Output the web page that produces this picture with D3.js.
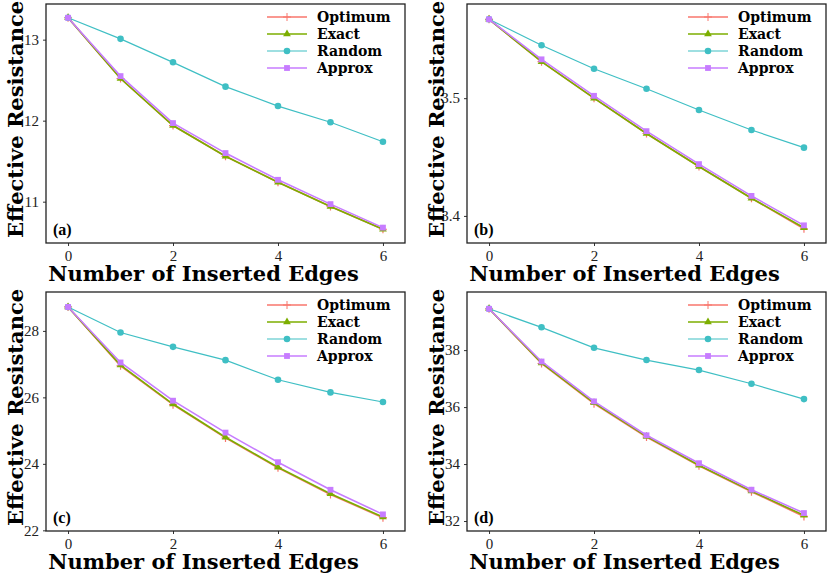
<!DOCTYPE html>
<html>
<head>
<style>body{margin:0;background:#fff}</style>
</head>
<body>
<svg width="830" height="578"></svg>
<script src="https://d3js.org/d3.v7.min.js"></script>
<script>

var steps = [0, 1, 2, 3, 4, 5, 6];
var seriesNames = ["Optimum", "Exact", "Random", "Approx"];
var colors = ["#f8766d", "#7cae00", "#3fbfc4", "#c77cff"];

// panel (a)
var aOptimum = [13.27, 12.52, 11.94, 11.56, 11.24, 10.94, 10.66];
var aExact   = [13.27, 12.52, 11.94, 11.56, 11.24, 10.94, 10.66];
var aRandom  = [13.27, 13.01, 12.72, 12.42, 12.18, 11.98, 11.74];
var aApprox  = [13.27, 12.55, 11.97, 11.60, 11.27, 10.97, 10.68];
// panel (b)
var bOptimum = [3.567, 3.531, 3.500, 3.470, 3.442, 3.415, 3.389];
var bExact   = [3.567, 3.531, 3.500, 3.470, 3.442, 3.415, 3.390];
var bRandom  = [3.567, 3.545, 3.525, 3.508, 3.490, 3.473, 3.458];
var bApprox  = [3.567, 3.533, 3.502, 3.472, 3.444, 3.417, 3.392];
// panel (c)
var cOptimum = [28.72, 26.95, 25.78, 24.78, 23.88, 23.08, 22.38];
var cExact   = [28.72, 26.97, 25.80, 24.80, 23.90, 23.10, 22.40];
var cRandom  = [28.72, 27.95, 27.52, 27.12, 26.53, 26.15, 25.86];
var cApprox  = [28.72, 27.05, 25.90, 24.94, 24.05, 23.22, 22.48];
// panel (d)
var dOptimum = [39.45, 37.53, 36.12, 34.95, 33.94, 33.03, 32.16];
var dExact   = [39.45, 37.55, 36.15, 34.97, 33.96, 33.05, 32.20];
var dRandom  = [39.45, 38.80, 38.08, 37.65, 37.30, 36.82, 36.28];
var dApprox  = [39.45, 37.60, 36.20, 35.01, 34.03, 33.10, 32.28];

var yTicksA = [11, 12, 13], yTicksB = [3.4, 3.5], yTicksC = [22, 24, 26, 28], yTicksD = [32, 34, 36, 38];
var xTicks = [0, 2, 4, 6];

var panels = [
  {label: "(a)", left: 46, top: 4, series: [aOptimum, aExact, aRandom, aApprox], ydom: [10.49, 13.44], yticks: yTicksA, fmt: d3.format("d")},
  {label: "(b)", left: 467, top: 4, series: [bOptimum, bExact, bRandom, bApprox], ydom: [3.377, 3.580], yticks: yTicksB, fmt: d3.format(".1f")},
  {label: "(c)", left: 46, top: 292, series: [cOptimum, cExact, cRandom, cApprox], ydom: [21.98, 29.17], yticks: yTicksC, fmt: d3.format("d")},
  {label: "(d)", left: 467, top: 292, series: [dOptimum, dExact, dRandom, dApprox], ydom: [31.65, 40.04], yticks: yTicksD, fmt: d3.format("d")}
];

var w = 359, h = 239;
var serif = "'Liberation Serif', 'DejaVu Serif', serif";
var boldSerif = "'DejaVu Serif', serif";
var svg = d3.select("svg");

var plusPath = "M-4,0H4M0,-4V4";
var symbols = [
  function() { return plusPath; },
  d3.symbol().type(d3.symbolTriangle).size(26),
  d3.symbol().type(d3.symbolCircle).size(34),
  d3.symbol().type(d3.symbolSquare).size(34)
];

panels.forEach(function(p) {
  var g = svg.append("g").attr("transform", "translate(" + p.left + "," + p.top + ")");
  var x = d3.scaleLinear().domain([-0.42, 6.42]).range([0, w]);
  var y = d3.scaleLinear().domain(p.ydom).range([h, 0]);

  var xa = g.append("g").attr("transform", "translate(0," + h + ")")
      .call(d3.axisBottom(x).tickValues(xTicks).tickFormat(d3.format("d")).tickSize(3).tickPadding(4));
  var ya = g.append("g")
      .call(d3.axisLeft(y).tickValues(p.yticks).tickFormat(p.fmt).tickSize(3).tickPadding(4));
  [xa, ya].forEach(function(a) {
    a.select(".domain").remove();
    a.selectAll("line").attr("stroke", "#333");
    a.selectAll("text").attr("font-family", serif).attr("font-size", "15px").attr("fill", "#222");
  });

  g.append("rect").attr("width", w).attr("height", h)
      .attr("fill", "none").attr("stroke", "#222").attr("stroke-width", 1.3);

  var line = d3.line()
      .x(function(d, i) { return x(steps[i]); })
      .y(function(d) { return y(d); });

  p.series.forEach(function(s, k) {
    g.append("path").datum(s).attr("d", line)
        .attr("fill", "none").attr("stroke", colors[k]).attr("stroke-width", k == 2 ? 1.2 : 1.6);
    g.selectAll(".m" + k).data(s).enter().append("path")
        .attr("transform", function(d, i) { return "translate(" + x(steps[i]) + "," + y(d) + ")"; })
        .attr("d", symbols[k])
        .attr("fill", k == 0 ? "none" : colors[k])
        .attr("stroke", k == 0 ? colors[k] : "none")
        .attr("stroke-width", 1.2);
  });

  // legend
  var lg = g.append("g").attr("transform", "translate(221,13)");
  seriesNames.forEach(function(n, k) {
    var r = lg.append("g").attr("transform", "translate(0," + (k * 17) + ")");
    r.append("line").attr("x1", 0).attr("x2", 40)
        .attr("stroke", colors[k]).attr("stroke-width", k == 2 ? 1.2 : 1.6);
    r.append("path").attr("transform", "translate(20,0)").attr("d", symbols[k])
        .attr("fill", k == 0 ? "none" : colors[k])
        .attr("stroke", k == 0 ? colors[k] : "none");
    r.append("text").attr("x", 50).attr("y", 5).text(n)
        .attr("font-family", boldSerif).attr("font-weight", "bold").attr("font-size", "14px");
  });

  g.append("text").attr("x", 7).attr("y", h - 8).text(p.label)
      .attr("font-family", serif).attr("font-weight", "bold").attr("font-size", "16px");

  g.append("text").attr("x", w / 2 - 22).attr("y", h + 38).attr("text-anchor", "middle")
      .text("Number of Inserted Edges")
      .attr("font-family", boldSerif).attr("font-weight", "bold").attr("font-size", "21px");

  g.append("text").attr("transform", "translate(-23," + (h / 2 - 4) + ") rotate(-90)")
      .attr("text-anchor", "middle").text("Effective Resistance")
      .attr("font-family", boldSerif).attr("font-weight", "bold").attr("font-size", "21px");
});

</script>
</body>
</html>
